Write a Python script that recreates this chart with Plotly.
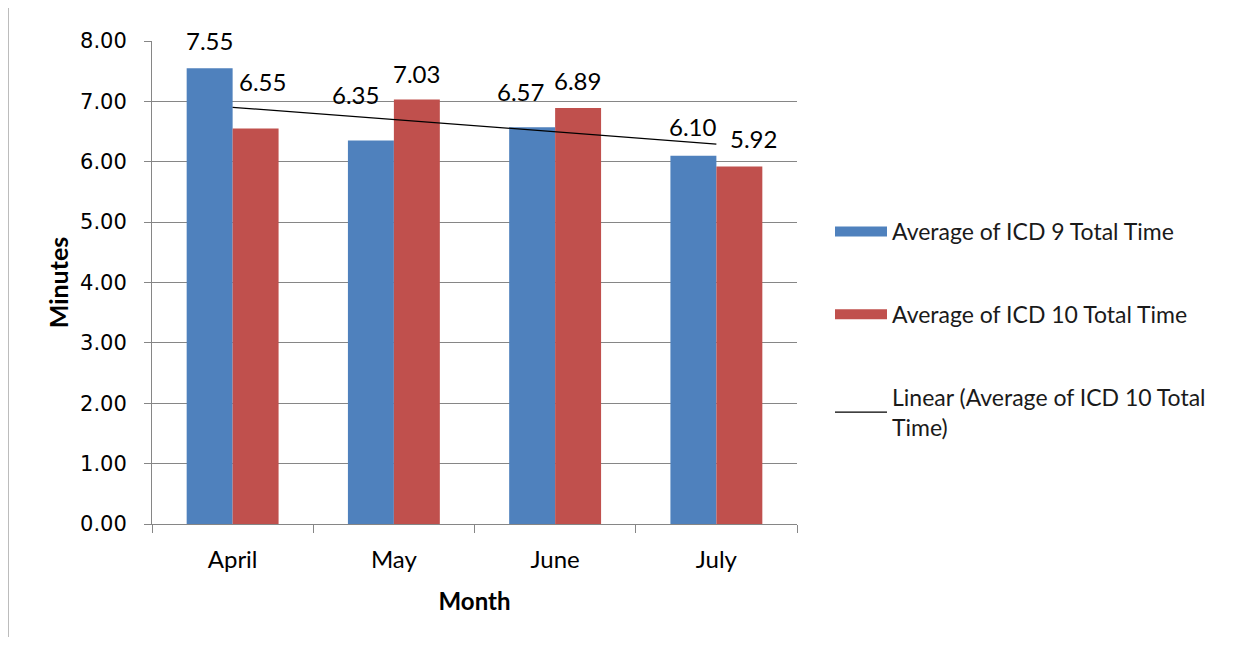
import numpy as np
import plotly.graph_objects as go

months = ["April", "May", "June", "July"]
icd9 = [7.55, 6.35, 6.57, 6.10]
icd10 = [6.55, 7.03, 6.89, 5.92]
y_ticks = [0, 1, 2, 3, 4, 5, 6, 7, 8]

# linear trendline of ICD 10 values (least squares, x = 1..n)
xi = np.arange(1, len(icd10) + 1)
slope, intercept = np.polyfit(xi, icd10, 1)
trend = list(slope * xi + intercept)

# label placement (pixel nudges of each data label, as placed in the source)
lab9_dx = [0, -15, -12, 0]
lab9_dy = [28, 46, 36, 29]
lab10_dx = [7, 0, -1, 14]
lab10_dy = [47, 26, 28, 28]

OFF = 8  # page body margin
W, H = 1253 - 2 * OFF, 647 - 2 * OFF
L, R, T, B = 152 - OFF, 797 - OFF, 41 - OFF, 524 - OFF
HALF_BAR = 23

FONT = "Lato, Carlito, Calibri, sans-serif"
label_font = dict(family=FONT, size=24, color="#000000")
BLUE, RED = "#4F81BD", "#C0504D"
NAME9 = "Average of ICD 9 Total Time"
NAME10 = "Average of ICD 10 Total Time"

fig = go.Figure()
fig.add_trace(go.Bar(
    x=months, y=icd9, name=NAME9,
    marker=dict(color=BLUE, line=dict(width=0)),
    legendgroup="a", cliponaxis=False, showlegend=False,
))
fig.add_trace(go.Bar(
    x=months, y=icd10, name=NAME10,
    marker=dict(color=RED, line=dict(width=0)),
    legendgroup="b", cliponaxis=False, showlegend=False,
))
# legend-only entries drawn as wide swatches (Excel style)
fig.add_trace(go.Scatter(x=[None], y=[None], mode="lines", name=NAME9,
                         line=dict(color=BLUE, width=14), legendgroup="a"))
fig.add_trace(go.Scatter(x=[None], y=[None], mode="lines", name=NAME10,
                         line=dict(color=RED, width=14), legendgroup="b"))
fig.add_trace(go.Scatter(
    x=months, y=trend, mode="lines",
    name="Linear (Average of ICD 10 Total<br>Time)",
    line=dict(color="#000000", width=1.2),
    legendgroup="c",
))

# data labels above each bar
for vals, side, dxs, dys in ((icd9, -1, lab9_dx, lab9_dy), (icd10, 1, lab10_dx, lab10_dy)):
    for m, v, dx, dy in zip(months, vals, dxs, dys):
        fig.add_annotation(x=m, y=v, text=f"{v:.2f}", showarrow=False,
                           xshift=side * HALF_BAR + dx, yshift=dy, font=label_font,
                           xref="x", yref="y")

fig.add_shape(type="line", xref="paper", yref="paper",
              x0=(0 - L) / (R - L), x1=(0 - L) / (R - L),
              y0=(B + OFF) / (B - T), y1=(B - 629) / (B - T),
              line=dict(color="#A6A6A6", width=1.5))

fig.update_layout(
    width=W, height=H,
    margin=dict(l=L, r=W - R, t=T, b=H - B, autoexpand=False),
    paper_bgcolor="white", plot_bgcolor="white",
    barmode="group", bargap=0.43, bargroupgap=0,
    font=dict(family=FONT, color="#000000"),
    showlegend=True,
    legend=dict(
        x=(822 - L) / (R - L), y=(B - 202) / (B - T),
        xanchor="left", yanchor="top",
        traceorder="grouped", tracegroupgap=50,
        itemwidth=52,
        font=dict(family=FONT, size=23, color="#1a1a1a"),
        bgcolor="rgba(0,0,0,0)",
    ),
    xaxis=dict(
        type="category", range=[-0.5, 3.5],
        showline=True, linecolor="#868686", linewidth=1,
        ticks="outside", tickson="boundaries", ticklen=8, tickcolor="#868686",
        showgrid=False, ticklabelstandoff=14,
        tickfont=dict(family=FONT, size=24, color="#000000"),
        title=dict(text="<b>Month</b>", font=dict(family=FONT, size=24), standoff=21),
    ),
    yaxis=dict(
        range=[0, 8], tickvals=y_ticks, tickformat=".2f",
        showline=True, linecolor="#868686", linewidth=1,
        ticks="outside", ticklen=7, tickcolor="#868686",
        showgrid=True, gridcolor="#868686", gridwidth=1,
        zeroline=False, ticklabelstandoff=13,
        tickfont=dict(family="DejaVu Sans, Verdana, sans-serif", size=21, color="#000000"),
        title=dict(text="<b>Minutes</b>", font=dict(family=FONT, size=25), standoff=4),
    ),
)

fig.write_html("out.html")
